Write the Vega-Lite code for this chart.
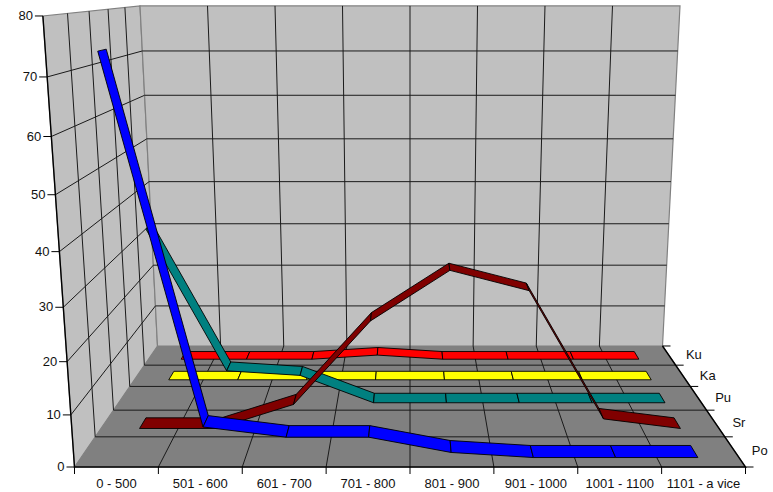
{
"$schema":"https://vega.github.io/schema/vega-lite/v6.json",
"width":773,"height":492,"padding":0,"autosize":{"type":"none"},"background":"white",
"config":{"view":{"stroke":null},"text":{"font":"Liberation Sans"}},
"datasets":{
"values":[
{"series":"Ku","category":"0 - 500","value":0},{"series":"Ku","category":"501 - 600","value":0},{"series":"Ku","category":"601 - 700","value":0},{"series":"Ku","category":"701 - 800","value":1},{"series":"Ku","category":"801 - 900","value":0},{"series":"Ku","category":"901 - 1000","value":0},{"series":"Ku","category":"1001 - 1100","value":0},{"series":"Ku","category":"1101 - a vice","value":0},
{"series":"Ka","category":"0 - 500","value":0},{"series":"Ka","category":"501 - 600","value":0},{"series":"Ka","category":"601 - 700","value":0},{"series":"Ka","category":"701 - 800","value":0},{"series":"Ka","category":"801 - 900","value":0},{"series":"Ka","category":"901 - 1000","value":0},{"series":"Ka","category":"1001 - 1100","value":0},{"series":"Ka","category":"1101 - a vice","value":0},
{"series":"Pu","category":"0 - 500","value":37},{"series":"Pu","category":"501 - 600","value":7},{"series":"Pu","category":"601 - 700","value":6},{"series":"Pu","category":"701 - 800","value":0},{"series":"Pu","category":"801 - 900","value":0},{"series":"Pu","category":"901 - 1000","value":0},{"series":"Pu","category":"1001 - 1100","value":0},{"series":"Pu","category":"1101 - a vice","value":0},
{"series":"Sr","category":"0 - 500","value":0},{"series":"Sr","category":"501 - 600","value":0},{"series":"Sr","category":"601 - 700","value":5},{"series":"Sr","category":"701 - 800","value":22},{"series":"Sr","category":"801 - 900","value":32},{"series":"Sr","category":"901 - 1000","value":28},{"series":"Sr","category":"1001 - 1100","value":2},{"series":"Sr","category":"1101 - a vice","value":0},
{"series":"Po","category":"0 - 500","value":74},{"series":"Po","category":"501 - 600","value":6},{"series":"Po","category":"601 - 700","value":4},{"series":"Po","category":"701 - 800","value":4},{"series":"Po","category":"801 - 900","value":1},{"series":"Po","category":"901 - 1000","value":0},{"series":"Po","category":"1001 - 1100","value":0},{"series":"Po","category":"1101 - a vice","value":0}
],
"panels":[
{"panel":"floor","c":0,"d":0,"v":0},{"panel":"floor","c":8,"d":0,"v":0},{"panel":"floor","c":8,"d":1,"v":0},{"panel":"floor","c":0,"d":1,"v":0},
{"panel":"left","c":0,"d":0,"v":0},{"panel":"left","c":0,"d":1,"v":0},{"panel":"left","c":0,"d":1,"v":80},{"panel":"left","c":0,"d":0,"v":80},
{"panel":"back","c":0,"d":1,"v":0},{"panel":"back","c":8,"d":1,"v":0},{"panel":"back","c":8,"d":1,"v":80},{"panel":"back","c":0,"d":1,"v":80}
],
"grid":[
{"g":"v","k":10},{"g":"v","k":20},{"g":"v","k":30},{"g":"v","k":40},{"g":"v","k":50},{"g":"v","k":60},{"g":"v","k":70},
{"g":"c","k":1},{"g":"c","k":2},{"g":"c","k":3},{"g":"c","k":4},{"g":"c","k":5},{"g":"c","k":6},{"g":"c","k":7},
{"g":"d","k":0.2},{"g":"d","k":0.4},{"g":"d","k":0.6},{"g":"d","k":0.8}
],
"edges":[
{"e":"a","c":0,"d":0,"v":80},{"e":"a","c":0,"d":0,"v":0},{"e":"a","c":8,"d":0,"v":0},{"e":"a","c":8,"d":1,"v":0}
],
"ticks":[
{"axis":"y","k":0,"label":"0"},{"axis":"y","k":10,"label":"10"},{"axis":"y","k":20,"label":"20"},{"axis":"y","k":30,"label":"30"},{"axis":"y","k":40,"label":"40"},{"axis":"y","k":50,"label":"50"},{"axis":"y","k":60,"label":"60"},{"axis":"y","k":70,"label":"70"},{"axis":"y","k":80,"label":"80"},
{"axis":"x","k":0},{"axis":"x","k":1},{"axis":"x","k":2},{"axis":"x","k":3},{"axis":"x","k":4},{"axis":"x","k":5},{"axis":"x","k":6},{"axis":"x","k":7},{"axis":"x","k":8},
{"axis":"d","k":0},{"axis":"d","k":0.2},{"axis":"d","k":0.4},{"axis":"d","k":0.6},{"axis":"d","k":0.8},{"axis":"d","k":1}
]
},
"encoding":{
"x":{"field":"X","type":"quantitative","axis":null,"scale":{"domain":[0,773],"range":[0,773],"nice":false,"zero":false}},
"y":{"field":"Y","type":"quantitative","axis":null,"scale":{"domain":[0,492],"range":[0,492],"nice":false,"zero":false}}
},
"layer":[
{"data":{"name":"panels"},
"transform":[
{"window":[{"op":"row_number","as":"n"}],"groupby":["panel"]},
{"calculate":"1+0.3287*datum.d-0.0861*datum.v/80","as":"w"},
{"calculate":"410+671*(datum.c/8-0.5)/datum.w","as":"X"},
{"calculate":"(467-7.27*datum.d-452.4*datum.v/80)/datum.w","as":"Y"}],
"mark":{"type":"line","interpolate":"linear-closed","stroke":"#808080","strokeWidth":1.2},
"encoding":{"fill":{"field":"panel","type":"nominal","legend":null,"scale":{"domain":["floor","left","back"],"range":["#808080","#c0c0c0","#c0c0c0"]}},"detail":{"field":"panel"},"order":{"field":"n"}}},
{"data":{"name":"grid"},
"transform":[
{"calculate":"[0,1,2]","as":"s"},{"flatten":["s"]},
{"calculate":"datum.g=='c'?datum.k:[0,0,8][datum.s]","as":"c"},
{"calculate":"datum.g=='d'?datum.k:[0,1,1][datum.s]","as":"d"},
{"calculate":"datum.g=='v'?datum.k:(datum.g=='c'?[0,0,80][datum.s]:[80,0,0][datum.s])","as":"v"},
{"calculate":"1+0.3287*datum.d-0.0861*datum.v/80","as":"w"},
{"calculate":"410+671*(datum.c/8-0.5)/datum.w","as":"X"},
{"calculate":"(467-7.27*datum.d-452.4*datum.v/80)/datum.w","as":"Y"},
{"calculate":"datum.g+datum.k","as":"id"}],
"mark":{"type":"line","stroke":"#1a1a1a","strokeWidth":1},
"encoding":{"detail":{"field":"id"},"order":{"field":"s"}}},
{"data":{"name":"edges"},
"transform":[
{"window":[{"op":"row_number","as":"n"}]},
{"calculate":"1+0.3287*datum.d-0.0861*datum.v/80","as":"w"},
{"calculate":"410+671*(datum.c/8-0.5)/datum.w","as":"X"},
{"calculate":"(467-7.27*datum.d-452.4*datum.v/80)/datum.w","as":"Y"}],
"mark":{"type":"line","stroke":"#000000","strokeWidth":1.4},
"encoding":{"detail":{"field":"e"},"order":{"field":"n"}}},
{"data":{"name":"values"},
"transform":[
{"window":[{"op":"row_number","as":"rn"}],"groupby":["series"]},
{"window":[{"op":"lead","field":"value","as":"next"}],"groupby":["series"]},
{"filter":"isValid(datum.next)"},
{"calculate":"(indexof(['Po','Sr','Pu','Ka','Ku'],datum.series)*2+1)/10","as":"d0"},
{"calculate":"datum.series+'-'+datum.rn","as":"seg"},
{"calculate":"[0,1,2,3]","as":"corner"},{"flatten":["corner"]},
{"calculate":"datum.rn-0.5+((datum.corner==1||datum.corner==2)?1:0)","as":"c"},
{"calculate":"datum.d0+(datum.corner<2?-0.04:0.04)","as":"d"},
{"calculate":"(datum.corner==1||datum.corner==2)?datum.next:datum.value","as":"v"},
{"calculate":"1+0.3287*datum.d-0.0861*datum.v/80","as":"w"},
{"calculate":"410+671*(datum.c/8-0.5)/datum.w","as":"X"},
{"calculate":"(467-7.27*datum.d-452.4*datum.v/80)/datum.w","as":"Y"}],
"mark":{"type":"line","interpolate":"linear-closed","stroke":"#000000","strokeWidth":0.9},
"encoding":{"fill":{"field":"series","type":"nominal","legend":null,"scale":{"domain":["Ku","Ka","Pu","Sr","Po"],"range":["#ff0000","#ffff00","#008080","#800000","#0000ff"]}},"detail":{"field":"seg"},"order":{"field":"corner"}}},
{"data":{"name":"ticks"},
"transform":[
{"calculate":"datum.axis=='x'?datum.k:(datum.axis=='d'?8:0)","as":"c"},
{"calculate":"datum.axis=='d'?datum.k:0","as":"d"},
{"calculate":"datum.axis=='y'?datum.k:0","as":"v"},
{"calculate":"1+0.3287*datum.d-0.0861*datum.v/80","as":"w"},
{"calculate":"410+671*(datum.c/8-0.5)/datum.w","as":"X"},
{"calculate":"(467-7.27*datum.d-452.4*datum.v/80)/datum.w","as":"Y"},
{"calculate":"datum.X+(datum.axis=='y'?-8:(datum.axis=='d'?8:0))","as":"X2"},
{"calculate":"datum.Y+(datum.axis=='x'?7:0)","as":"Y2"}],
"mark":{"type":"rule","stroke":"#000000","strokeWidth":1},
"encoding":{"x2":{"field":"X2"},"y2":{"field":"Y2"}}},
{"data":{"name":"ticks"},
"transform":[
{"filter":"datum.axis=='y'"},
{"calculate":"1-0.0861*datum.k/80","as":"w"},
{"calculate":"410-335.5/datum.w-10","as":"X"},
{"calculate":"(467-452.4*datum.k/80)/datum.w","as":"Y"}],
"mark":{"type":"text","align":"right","baseline":"middle","fontSize":13,"fill":"#111111"},
"encoding":{"text":{"field":"label"}}},
{"data":{"name":"values"},
"transform":[
{"filter":"datum.series=='Po'"},
{"window":[{"op":"row_number","as":"rn"}]},
{"calculate":"410+671*((datum.rn-0.5)/8-0.5)","as":"X"},
{"calculate":"484","as":"Y"}],
"mark":{"type":"text","align":"center","baseline":"middle","fontSize":13,"fill":"#111111"},
"encoding":{"text":{"field":"category"}}},
{"data":{"name":"values"},
"transform":[
{"filter":"datum.category=='0 - 500'"},
{"calculate":"(indexof(['Po','Sr','Pu','Ka','Ku'],datum.series)*2+1)/10","as":"d"},
{"calculate":"1+0.3287*datum.d","as":"w"},
{"calculate":"410+335.5/datum.w+17","as":"X"},
{"calculate":"(467-7.27*datum.d)/datum.w","as":"Y"}],
"mark":{"type":"text","align":"left","baseline":"middle","fontSize":13,"fill":"#111111"},
"encoding":{"text":{"field":"series"}}}
],
"resolve":{"scale":{"fill":"independent"}}
}
